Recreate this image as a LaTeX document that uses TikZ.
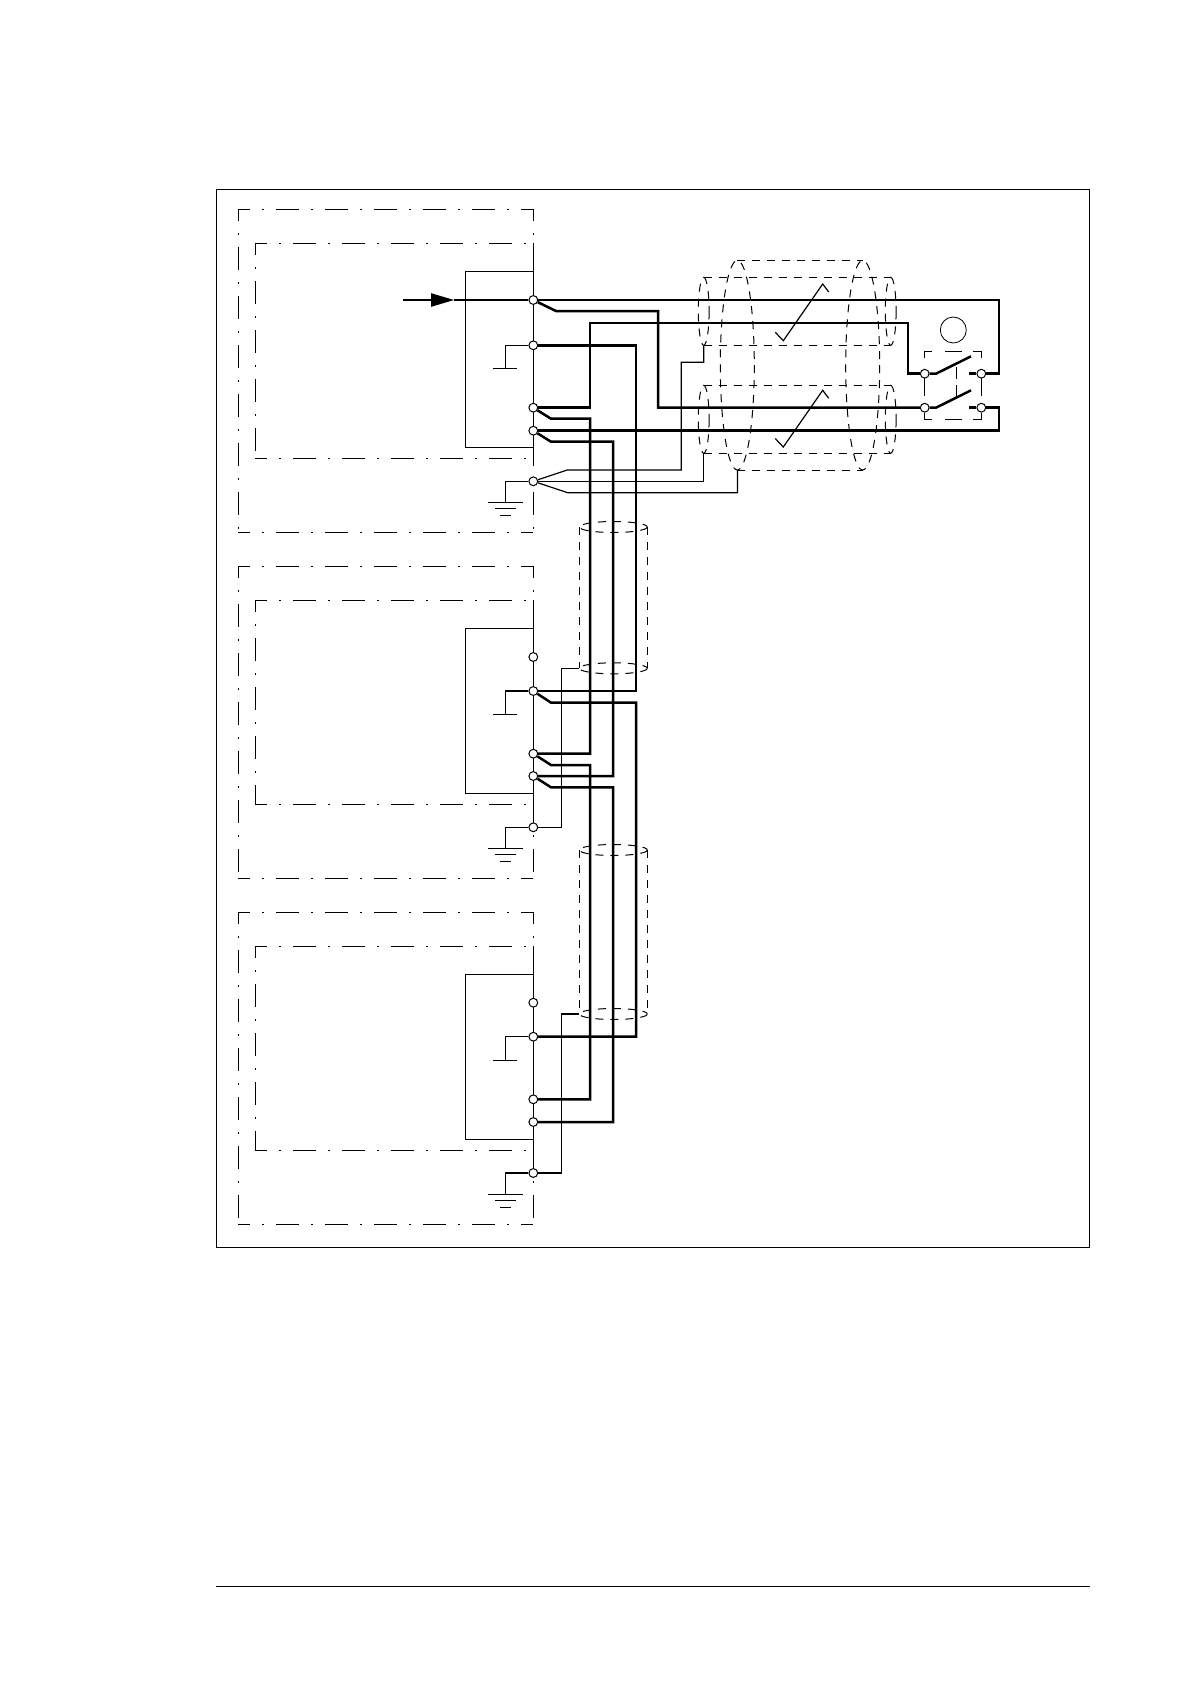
\documentclass[tikz,border=0pt]{standalone}
\usepackage{tikz}
\usetikzlibrary{arrows.meta}
\tikzset{
  thinw/.style={line width=0.6pt},
  heavy/.style={line width=1.25pt},
  boxdash/.style={line width=0.6pt, dash pattern=on 11.5pt off 6pt on 1pt off 6pt, dash phase=5.6pt},
  shield/.style={line width=0.5pt, dash pattern=on 4pt off 3.5pt},
  term/.style={circle, draw, fill=white, line width=0.5pt, inner sep=0pt, minimum size=4.4pt}
}
\begin{document}
\begin{tikzpicture}[x=0.5pt, y=-0.5pt]
  \useasboundingbox (0,0) rectangle (1192,1682);
  \draw[line width=0.7pt] (216.3,189.3) rectangle (1089.3,1247.5);
  \coordinate(footl) at (216,1586.3);
  \coordinate(footr) at (1090,1586.3);
  \draw[line width=0.7pt] (footl) -- (footr);
  % outer and inner boxes
  \foreach \ytop/\ybot in {209.3/532.3, 566.3/878.3, 912.3/1224.3} {
    \draw[boxdash] (238.3,\ytop) -- (533.3,\ytop);
    \draw[boxdash] (238.3,\ytop) -- (238.3,\ybot);
    \draw[boxdash] (238.3,\ybot) -- (533.3,\ybot);
    \draw[boxdash] (533.3,\ytop) -- (533.3,\ybot);
  }
  \foreach \ytop/\ybot/\ya/\yb in {243.3/458.3/271.3/447.3, 600.3/804.4/628.3/793.3, 946.3/1150.3/974.3/1139.3} {
    \draw[boxdash] (255.3,\ytop) -- (533.3,\ytop);
    \draw[boxdash] (255.3,\ytop) -- (255.3,\ybot);
    \draw[boxdash] (255.3,\ybot) -- (533.3,\ybot);
    \draw[thinw] (533.3,\ytop) -- (533.3,\ybot);
    \draw[thinw] (533.3,\ya) -- (465.3,\ya) -- (465.3,\yb) -- (533.3,\yb);
  }
  % cable shields
  \foreach \ya/\yb in {277.3/345.3, 385.3/453.3} {
    \draw[shield] (703.7,\ya) -- (890.7,\ya);
    \draw[shield] (703.7,\yb) -- (890.7,\yb);
    \draw[shield] (703.7,{(\ya+\yb)/2}) ellipse (5.4 and 34);
    \draw[shield] (890.7,{(\ya+\yb)/2}) ellipse (5.4 and 34);
  }
  \draw[shield] (737.3,260.3) -- (862.7,260.3);
  \draw[shield] (737.3,470) -- (862.7,470);
  \draw[shield] (737.3,365.2) ellipse (17 and 104.8);
  \draw[shield] (862.7,365.2) ellipse (17 and 104.8);
  \foreach \ya/\yb in {527/668.3, 850/1014} {
    \draw[shield] (579.3,\ya) -- (579.3,\yb);
    \draw[shield] (647.3,\ya) -- (647.3,\yb);
    \draw[shield] (613.3,\ya) ellipse (34 and 5.5);
    \draw[shield] (613.3,\yb) ellipse (34 and 5.5);
  }
  % terminals
  \node(ta1)[term] at (533.3,300) {};
  \node(ta2)[term] at (533.3,345.3) {};
  \node(ta3)[term] at (533.3,407.7) {};
  \node(ta4)[term] at (533.3,430.7) {};
  \node(ta5)[term] at (533.3,481.3) {};
  \node(tb1)[term] at (533.3,657) {};
  \node(tb2)[term] at (533.3,691) {};
  \node(tb3)[term] at (533.3,753.7) {};
  \node(tb4)[term] at (533.3,776) {};
  \node(tb5)[term] at (533.3,827.3) {};
  \node(tc1)[term] at (533.3,1002.7) {};
  \node(tc2)[term] at (533.3,1036.7) {};
  \node(tc3)[term] at (533.3,1099.3) {};
  \node(tc4)[term] at (533.3,1122) {};
  \node(tc5)[term] at (533.3,1173) {};
  \node(sw1)[term] at (924.7,373.7) {};
  \node(sw2)[term] at (981.3,373.7) {};
  \node(sw3)[term] at (924.7,407.7) {};
  \node(sw4)[term] at (981.3,407.7) {};
  \node(lamp)[circle, draw, line width=0.4pt, inner sep=0pt, minimum size=13pt] at (953.3,330) {};
  % input arrow
  \coordinate(inp) at (403,300);
  \coordinate(tip) at (454,300);
  \draw[thinw, -{Triangle[length=11.5pt,width=6.7pt]}] (inp) -- (tip);
  \draw[thinw] (tip) -- (ta1);
  % grounds
  \draw[thinw] (ta2) -| (505.3,368.3);
  \draw[thinw] (493,368.3) -- (517,368.3);
  \draw[thinw] (tb2) -| (505.3,714.3);
  \draw[thinw] (493,714.3) -- (517,714.3);
  \draw[thinw] (tc2) -| (505.3,1060.4);
  \draw[thinw] (493,1060.4) -- (517,1060.4);
  \foreach \tm/\yg in {ta5/502.3, tb5/848.3, tc5/1194.3} {
    \draw[thinw] (\tm) -| (505.3,\yg);
    \draw[thinw] (488,\yg) -- (523,\yg);
    \draw[thinw] (495,\yg+6.5) -- (516,\yg+6.5);
    \draw[thinw] (500,\yg+13) -- (511,\yg+13);
  }
  % thin shield wires
  \draw[thinw] (ta5) -- (567.3,470) -- (681.3,470) -- (681.3,362.3) -- (703.7,362.3) -- (703.7,345.3);
  \draw[thinw] (ta5) -- (703.7,481.3) -- (703.7,453.3);
  \draw[thinw] (ta5) -- (567.7,492.7) -- (737.5,492.7) -- (737.5,470);
  \draw[thinw] (tb5) -- (561.3,827.3) -- (561.3,668.3) -- (579.3,668.3);
  \draw[thinw] (tc5) -- (561.3,1173) -- (561.3,1014) -- (579.3,1014);
  % heavy wires
  \draw[heavy] (ta1) -- (999,300) -- (999,373.7) -- (sw2);
  \draw[heavy] (ta1) -- (556,311) -- (658,311) -- (658,407.7) -- (sw3);
  \draw[heavy] (ta2) -- (636,345.3) -- (636,691) -- (tb2);
  \draw[heavy] (ta3) -- (590,407.7) -- (590,323) -- (908,323) -- (908,373.7) -- (sw1);
  \draw[heavy] (ta3) -- (551,418.7) -- (590,418.7) -- (590,753.7) -- (tb3);
  \draw[heavy] (ta4) -- (999,430.7) -- (999,407.7) -- (sw4);
  \draw[heavy] (ta4) -- (551,441.7) -- (613,441.7) -- (613,776) -- (tb4);
  \draw[heavy] (tb2) -- (551,702.7) -- (636,702.7) -- (636,1036.7) -- (tc2);
  \draw[heavy] (tb3) -- (551,765) -- (590,765) -- (590,1099.3) -- (tc3);
  \draw[heavy] (tb4) -- (551,787.3) -- (613,787.3) -- (613,1122) -- (tc4);
  % switch
  \draw[thinw] (924.7,358) -- (924.7,351.7) -- (932.3,351.7);
  \draw[thinw] (945,351.7) -- (961.7,351.7);
  \draw[thinw] (973.3,351.7) -- (981.3,351.7) -- (981.3,358);
  \draw[thinw] (924.7,412.7) -- (924.7,419.3) -- (932.3,419.3);
  \draw[thinw] (945,419.3) -- (961.7,419.3);
  \draw[thinw] (973.3,419.3) -- (981.3,419.3) -- (981.3,412.7);
  \draw[thinw] (924.7,378.3) -- (924.7,395.7);
  \draw[thinw] (981.3,378.3) -- (981.3,395.7);
  \draw[thinw] (956.7,367.3) -- (956.7,379);
  \draw[thinw] (956.7,385) -- (956.7,396.7);
  \draw[heavy] (sw1) -- (936,373.7) -- (971,356.3);
  \draw[heavy] (sw3) -- (936,407.7) -- (971,390.3);
  \draw[heavy] (969,373.7) -- (sw2);
  \draw[heavy] (969,407.7) -- (sw4);
  % tick marks
  \foreach \yd in {0, 106.3} {
    \draw[thinw] (775.3,332.3+\yd) -- (783.3,340.7+\yd) -- (822.7,284+\yd) -- (828.7,292+\yd);
  }
\end{tikzpicture}
\end{document}
